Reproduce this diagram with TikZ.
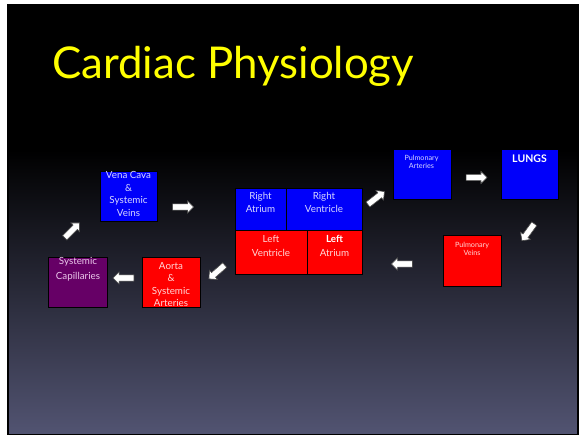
\documentclass[tikz,border=0pt]{standalone}
\usepackage{fontspec}
\setmainfont{Lato}
\usetikzlibrary{shapes.arrows}
\definecolor{ttl}{RGB}{255,255,0}
\definecolor{bblue}{RGB}{0,0,250}
\definecolor{rred}{RGB}{255,0,0}
\definecolor{purp}{RGB}{102,0,102}
\definecolor{bgbot}{RGB}{82,84,114}
\definecolor{txtb}{RGB}{215,215,255}
\definecolor{txtr}{RGB}{255,215,215}
\definecolor{txtp}{RGB}{235,200,235}
\begin{document}
\begin{tikzpicture}[x=1pt,y=-1pt,
  box/.style={draw=black, line width=1.3pt, anchor=north west, inner sep=0pt},
  lbl/.style={align=center, inner sep=0pt},
  blk/.style={single arrow, draw=black!70, fill=white, line width=0.6pt,
    minimum height=21pt, inner sep=2.8pt, single arrow head extend=3pt,
    single arrow head indent=0pt}
]
\useasboundingbox (0,0) rectangle (582,435);
% slide background
\fill[black] (8,5) rectangle (578,150);
\shade[top color=black, bottom color=bgbot] (8,150) rectangle (578,435);
\draw[black, line width=1.5pt] (8,5) rectangle (578,435);
% title
\node[anchor=base west, inner sep=0pt, text=ttl, font=\fontsize{43.8}{50}\selectfont] (title) at (52,79) {Cardiac Physiology};
% boxes
\node[box, fill=bblue, minimum width=57pt, minimum height=50pt] (vc) at (100,171) {};
\node[box, fill=purp, minimum width=59pt, minimum height=50pt] (cap) at (48,257) {};
\node[box, fill=rred, minimum width=58pt, minimum height=50pt] (ao) at (142,257) {};
\node[box, fill=bblue, minimum width=51pt, minimum height=42pt] (ra) at (235,188) {};
\node[box, fill=bblue, minimum width=76pt, minimum height=42pt] (rv) at (286,188) {};
\node[box, fill=rred, minimum width=72pt, minimum height=44pt] (lv) at (235,230) {};
\node[box, fill=rred, minimum width=55pt, minimum height=44pt] (la) at (307,230) {};
\node[box, fill=bblue, minimum width=58pt, minimum height=50pt] (pa) at (393,149) {};
\node[box, fill=bblue, minimum width=57pt, minimum height=50pt] (lu) at (501,149) {};
\node[box, fill=rred, minimum width=58pt, minimum height=51pt] (pv) at (443,235) {};
% labels
\node[lbl, text=txtb, font=\fontsize{9.8}{12.7}\selectfont] (tvc) at (128.5,194) {Vena Cava\\\&\\Systemic\\Veins};
\node[lbl, text=txtp, font=\fontsize{9.8}{15}\selectfont] (tcap) at (78,269.5) {Systemic\\Capillaries};
\node[lbl, text=txtr, font=\fontsize{9.8}{12.3}\selectfont] (tao) at (171,284.5) {Aorta\\\&\\Systemic\\Arteries};
\node[lbl, text=txtb, font=\fontsize{9.8}{13}\selectfont] (tra) at (260.5,202.5) {Right\\Atrium};
\node[lbl, text=txtb, font=\fontsize{9.8}{13}\selectfont] (trv) at (324,202.5) {Right\\Ventricle};
\node[lbl, text=txtr, font=\fontsize{9.8}{14}\selectfont] (tlv) at (271,246) {Left\\Ventricle};
\node[lbl, text=txtr, font=\fontsize{9.8}{14}\selectfont] (tla) at (334.5,246) {\textcolor{white}{\textbf{Left}}\\Atrium};
\node[lbl, text=txtb, font=\fontsize{7.2}{8}\selectfont] (tpa) at (421.5,162) {Pulmonary\\Arteries};
\node[lbl, text=white, font=\bfseries\fontsize{10.5}{12}\selectfont] (tlu) at (529.5,159) {LUNGS};
\node[lbl, text=txtr, font=\fontsize{7.2}{8}\selectfont] (tpv) at (472,249) {Pulmonary\\Veins};
% block arrows
\node[blk] (a1) at (181.5,207) {};
\node[blk, rotate=45] (a2) at (71,231.5) {};
\node[blk, rotate=180] (a3) at (125,278) {};
\node[blk, rotate=221] (a4) at (218,271) {};
\node[blk, rotate=38] (a5) at (375,199) {};
\node[blk] (a6) at (475,177.5) {};
\node[blk, rotate=234] (a7) at (529,231) {};
\node[blk, rotate=180] (a8) at (403.5,264) {};
\end{tikzpicture}
\end{document}
